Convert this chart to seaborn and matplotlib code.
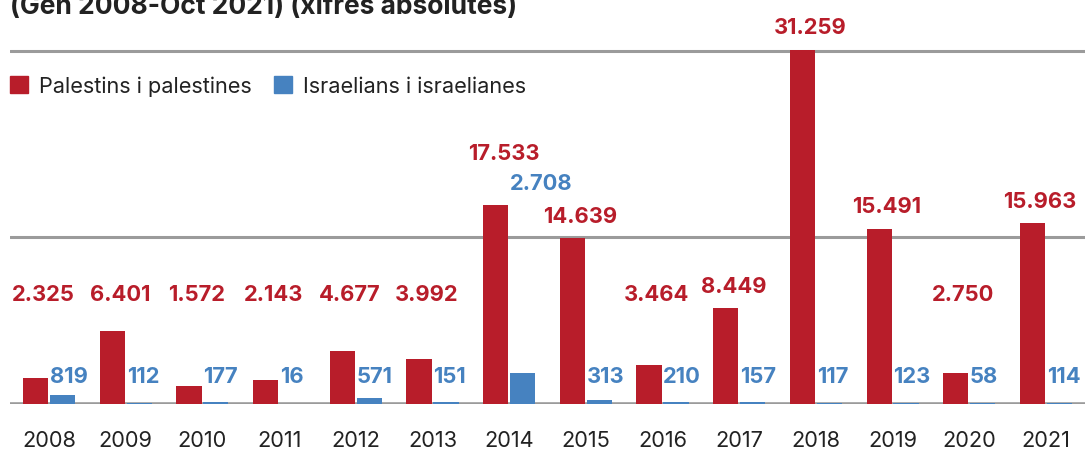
import numpy as np
import pandas as pd
import seaborn as sns
import matplotlib.pyplot as plt

# dades
years = ["2008", "2009", "2010", "2011", "2012", "2013", "2014",
         "2015", "2016", "2017", "2018", "2019", "2020", "2021"]
palestins = [2325, 6401, 1572, 2143, 4677, 3992, 17533,
             14639, 3464, 8449, 31259, 15491, 2750, 15963]
israelians = [819, 112, 177, 16, 571, 151, 2708,
              313, 210, 157, 117, 123, 58, 114]
series = ["Palestins i palestines", "Israelians i israelianes"]
title = "(Gen 2008-Oct 2021) (xifres absolutes)"

RED = "#B81D2A"
BLUE = "#4682C0"
GREY = "#9b9b9b"
TXT = "#222222"

df = pd.DataFrame({
    "any": years * 2,
    "valor": palestins + israelians,
    "grup": [series[0]] * len(years) + [series[1]] * len(years),
})

sns.set_style("white")
plt.rcParams["font.family"] = ["Inter", "DejaVu Sans"]

fig = plt.figure(figsize=(10.91, 4.52), dpi=100)
ax = fig.add_axes([10 / 1091, 47 / 452, 1075 / 1091, 405 / 452])

sns.barplot(data=df, x="any", y="valor", hue="grup", palette=[RED, BLUE],
            width=0.7, gap=0.06, saturation=1, linewidth=0, legend=False,
            ax=ax, zorder=3)

ax.set_ylim(0, 35750)
ax.set_xlim(-0.51, 13.51)

# linies de referencia
for g in [14700, 31200]:
    ax.axhline(g, color=GREY, lw=2.2, zorder=0)
ax.axhline(0, color=GREY, lw=2.6, zorder=1)

sns.despine(ax=ax, left=True, bottom=True)
ax.set_yticks([])
ax.set_xlabel("")
ax.set_ylabel("")
ax.tick_params(axis="x", length=0, pad=19, labelsize=15.7, labelcolor=TXT)

# etiquetes de valor
pad = 2000
red_floor = 9700
blue_floor = 2470
red_bars = ax.containers[0]
blue_bars = ax.containers[1]
for rb, bb, pv, iv in zip(red_bars, blue_bars, palestins, israelians):
    blue_y = blue_floor
    red_y = max(pv + pad, red_floor)
    if iv > blue_floor - 1000:
        # la barra blava tapa l'etiqueta: es puja per sobre de la vermella
        blue_y = pv + pad
        red_y = blue_y + 2600
    ax.text(rb.get_x() + rb.get_width() / 2 + 0.1, red_y,
            f"{pv:,}".replace(",", "."), ha="center", va="center",
            color=RED, fontsize=15.8, fontweight="bold")
    ax.text(bb.get_x(), blue_y, f"{iv:,}".replace(",", "."),
            ha="left", va="center", color=BLUE, fontsize=15.8,
            fontweight="bold")

# llegenda
handles = [plt.Rectangle((0, 0), 1, 1, color=c) for c in (RED, BLUE)]
ax.legend(handles, series, loc="center left", bbox_to_anchor=(0, 318 / 405),
          frameon=False, ncol=2, fontsize=15.6, handlelength=0.85,
          handleheight=0.85, handletextpad=0.5, columnspacing=1.0,
          borderaxespad=0, borderpad=0, labelcolor=TXT)

fig.text(10 / 1091, 1 - 14 / 452, title, ha="left", va="baseline",
         fontsize=19, fontweight="bold", color=TXT)

fig.savefig("out.png", dpi=100)
